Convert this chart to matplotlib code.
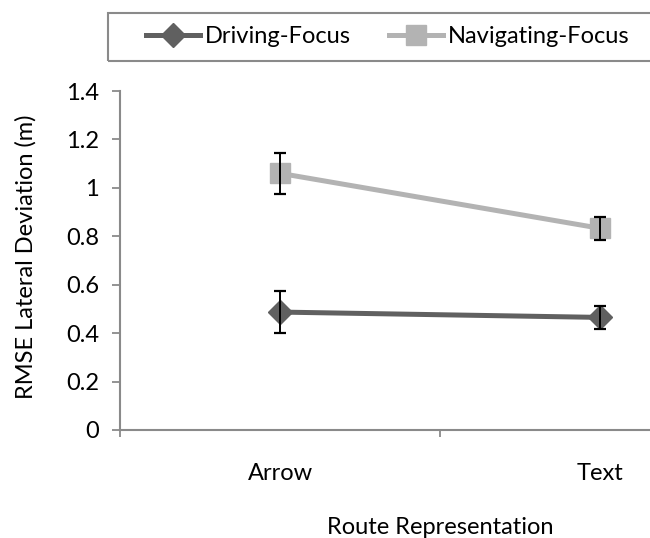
import matplotlib
matplotlib.use("Agg")
import matplotlib.pyplot as plt
from matplotlib.patches import Rectangle
from matplotlib.lines import Line2D

categories = ["Arrow", "Text"]
driving = [0.487, 0.465]
driving_err = [0.085, 0.049]
navigating = [1.06, 0.833]
navigating_err = [0.084, 0.047]
y_ticks = [0, 0.2, 0.4, 0.6, 0.8, 1, 1.2, 1.4]
y_tick_labels = ["0", "0.2", "0.4", "0.6", "0.8", "1", "1.2", "1.4"]

plt.rcParams["font.family"] = ["Lato", "DejaVu Sans"]
FS = 17
AXIS_GREY = "#8a8a8a"
DARK = "#606060"
LIGHT = "#b3b3b3"

W, H = 650, 538
fig = plt.figure(figsize=(W / 100, H / 100), dpi=100)
# axes spans 120..760 px horizontally (partly beyond the canvas), 91..430 px vertically
ax = fig.add_axes([120 / W, (H - 430) / H, 640 / W, 339 / H])

xpos = [0.5, 1.5]
ax.plot(xpos, driving, color=DARK, lw=3.6, marker="D", ms=12, mec=DARK, mfc=DARK, zorder=3)
ax.plot(xpos, navigating, color=LIGHT, lw=3.6, marker="s", ms=14, mec=LIGHT, mfc=LIGHT, zorder=3)
ax.errorbar(xpos, driving, yerr=driving_err, fmt="none", ecolor="black", elinewidth=1.4,
            capsize=4.6, capthick=1.6, zorder=4)
ax.errorbar(xpos, navigating, yerr=navigating_err, fmt="none", ecolor="black", elinewidth=1.4,
            capsize=4.6, capthick=1.6, zorder=4)

ax.set_xlim(0, 2)
ax.set_ylim(0, 1.4)
ax.set_yticks(y_ticks)
ax.set_yticklabels(y_tick_labels, fontsize=FS)
ax.set_xticks([0, 1, 2])
ax.set_xticklabels([])
ax.set_xticks(xpos, minor=True)
ax.set_xticklabels(categories, minor=True, fontsize=FS)
ax.tick_params(axis="x", which="minor", length=0, pad=24)
ax.tick_params(axis="x", which="major", length=5, width=1.3, color=AXIS_GREY, direction="out")
ax.tick_params(axis="y", length=6, width=1.3, color=AXIS_GREY, direction="out", pad=9)

for side in ("top", "right"):
    ax.spines[side].set_visible(False)
for side in ("left", "bottom"):
    ax.spines[side].set_color(AXIS_GREY)
    ax.spines[side].set_linewidth(1.5)

fig.text(26 / W, 1 - 257 / H, "RMSE Lateral Deviation (m)", fontsize=FS, rotation=90,
         ha="center", va="center")
fig.text(440 / W, 1 - 527 / H, "Route Representation", fontsize=FS, ha="center", va="center")

# legend frame running off the right edge
fig.patches.append(Rectangle((108 / W, 1 - 61 / H), 600 / W, 48 / H, transform=fig.transFigure,
                             fill=False, edgecolor=AXIS_GREY, linewidth=1.5, clip_on=False))
handles = [
    Line2D([], [], color=DARK, lw=3.6, marker="D", ms=12),
    Line2D([], [], color=LIGHT, lw=3.6, marker="s", ms=14),
]
fig.legend(handles, ["Driving-Focus", "Navigating-Focus"], loc="center left",
           bbox_to_anchor=(146 / W, 1 - 37 / H), ncol=2, frameon=False, fontsize=FS,
           handlelength=2.3, handletextpad=0.2, columnspacing=1.6, borderpad=0, borderaxespad=0)

fig.savefig("out.png", dpi=100)
